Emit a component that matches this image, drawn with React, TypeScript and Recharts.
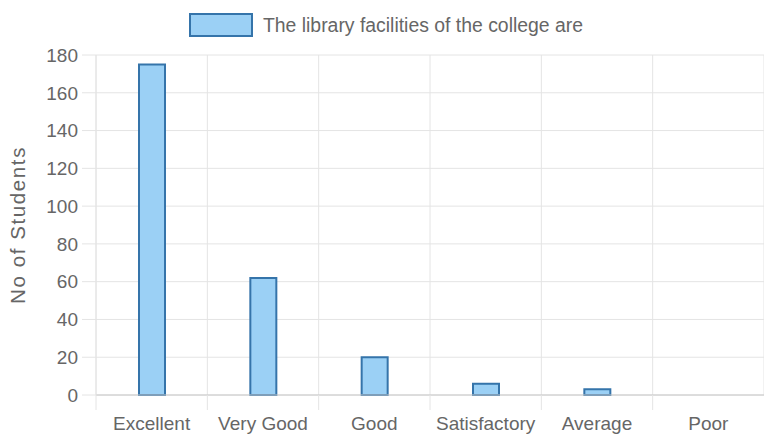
import React from "react";
import { BarChart, Bar, XAxis, YAxis, CartesianGrid, Legend } from "recharts";

const categories = ["Excellent", "Very Good", "Good", "Satisfactory", "Average", "Poor"];
const students = [175, 62, 20, 6, 3, 0];
const yTicks = [0, 20, 40, 60, 80, 100, 120, 140, 160, 180];
const seriesName = "The library facilities of the college are";
const yLabel = "No of Students";

const data = categories.map((c, i) => ({ name: c, value: students[i] }));

const W = 764;
const H = 437;
const LEFT = 96;
const TOP = 31;
const XH = 42;
const FONT = "'Liberation Sans', Arial, sans-serif";
const TXT = "#666";
const GRID = "#e4e4e4";
const plotW = W - LEFT;
const band = plotW / categories.length;

const XTick = (props: any) => {
  const { x, y, payload } = props;
  const bx = x - band / 2;
  return (
    <g>
      <line x1={bx} x2={bx} y1={y - 8} y2={y + 7} stroke={GRID} strokeWidth={1} />
      <text x={x} y={y + 27} textAnchor="middle" fill={TXT} fontSize={19} fontFamily={FONT}>
        {payload.value}
      </text>
    </g>
  );
};

const LegendContent = () => (
  <div style={{ display: "flex", justifyContent: "center", alignItems: "center", height: 24, marginLeft: 8 }}>
    <svg width={64} height={24} style={{ marginRight: 10 }}>
      <rect x={1} y={1} width={62} height={22} fill="#9bd0f5" stroke="#3574aa" strokeWidth={2} />
    </svg>
    <span style={{ fontFamily: FONT, fontSize: 19.4, color: TXT }}>{seriesName}</span>
  </div>
);

export default function App() {
  return (
    <div style={{ position: "absolute", left: 0, top: 0, width: W, height: H, background: "#fff" }}>
      <BarChart
        width={W}
        height={H}
        data={data}
        margin={{ top: TOP, right: 0, bottom: 0, left: 0 }}
        barCategoryGap={0}
      >
        <CartesianGrid
          stroke={GRID}
          verticalCoordinatesGenerator={({ offset }: any) =>
            categories.map((_, i) => offset.left + (i * offset.width) / categories.length).concat([offset.left + offset.width])
          }
        />
        <Legend
          verticalAlign="top"
          align="center"
          wrapperStyle={{ top: 13, left: 0, width: W }}
          content={LegendContent}
        />
        <XAxis
          dataKey="name"
          height={XH}
          interval={0}
          axisLine={{ stroke: "#c8c8c8" }}
          tickLine={false}
          tick={<XTick />}
        />
        <YAxis
          width={LEFT}
          domain={[0, 180]}
          ticks={yTicks}
          interval={0}
          axisLine={{ stroke: GRID }}
          tickLine={{ stroke: GRID }}
          tickSize={14}
          tickMargin={4}
          tick={{ fill: TXT, fontSize: 19, fontFamily: FONT }}
          label={{
            value: yLabel,
            angle: -90,
            position: "insideLeft",
            offset: 18,
            style: { fill: TXT, fontSize: 20.5, fontFamily: FONT, textAnchor: "middle", letterSpacing: 1.6 },
          }}
        />
        <Bar
          dataKey="value"
          name={seriesName}
          barSize={26}
          fill="#9bd0f5"
          stroke="#3574aa"
          strokeWidth={2}
          isAnimationActive={false}
        />
      </BarChart>
    </div>
  );
}
